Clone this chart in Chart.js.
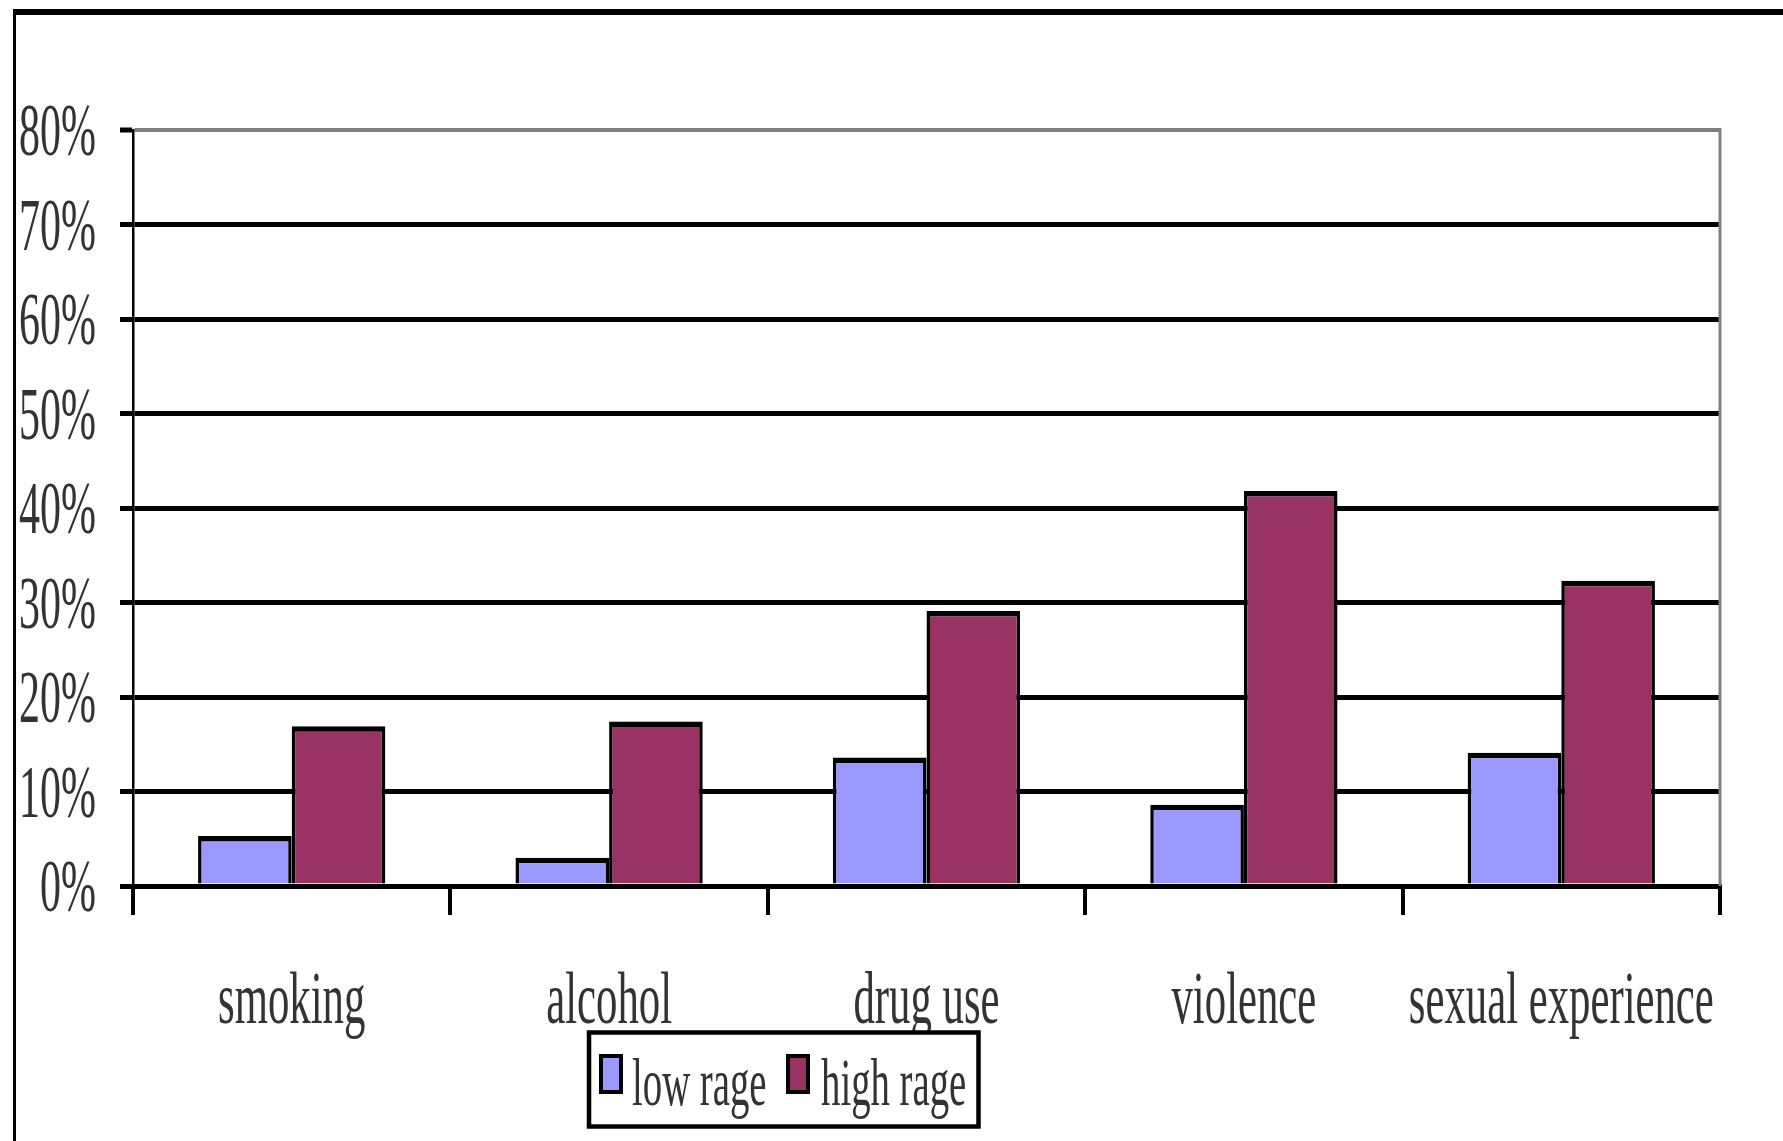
<!DOCTYPE html>
<html>
<head>
<meta charset="utf-8">
<script src="https://cdn.jsdelivr.net/npm/chart.js@4/dist/chart.umd.min.js"></script>
<style>
  html, body { margin: 0; padding: 0; background: #fff; overflow: hidden; }
  #wrap { width: 1783px; height: 1141px; }
</style>
</head>
<body>
<div id="wrap"><canvas id="c" width="1783" height="1141"></canvas></div>
<script>
// Share of respondents by behaviour, split by rage level (percent)
const categories = ['smoking', 'alcohol', 'drug use', 'violence', 'sexual experience'];
const seriesNames = ['low rage', 'high rage'];
const lowRage = [5.3, 3.0, 13.6, 8.6, 14.1];
const highRage = [16.9, 17.4, 29.1, 41.8, 32.3];
const yTicks = [0, 10, 20, 30, 40, 50, 60, 70, 80];
const yTickLabels = ['0%', '10%', '20%', '30%', '40%', '50%', '60%', '70%', '80%'];
const seriesColors = ['#9999FF', '#993366'];

const SERIF = "'Liberation Serif', 'Times New Roman', serif";
const INK = '#333';

// Draw narrow (horizontally squeezed) serif text
function squeezedText(ctx, text, x, y, size, sx, align) {
  ctx.save();
  ctx.font = size + 'px ' + SERIF;
  ctx.fillStyle = INK;
  ctx.textAlign = align;
  ctx.textBaseline = 'alphabetic';
  ctx.translate(x, y);
  ctx.scale(sx, 1);
  ctx.fillText(text, 0, 0);
  ctx.restore();
}

const framePlugin = {
  id: 'frame',
  beforeDraw(chart) {
    const ctx = chart.ctx;
    ctx.save();
    ctx.fillStyle = '#fff';
    ctx.fillRect(0, 0, chart.width, chart.height);
    ctx.fillStyle = '#000';
    // outer border: top and left edges
    ctx.fillRect(13, 9, chart.width - 13, 6);
    ctx.fillRect(13, 9, 3, chart.height - 9);
    ctx.restore();
  },
  afterDraw(chart) {
    const ctx = chart.ctx;
    const area = chart.chartArea;
    const xs = chart.scales.x;
    const ys = chart.scales.y;

    // right edge of the plot area
    ctx.save();
    ctx.strokeStyle = '#808080';
    ctx.lineWidth = 3;
    ctx.beginPath();
    ctx.moveTo(area.right, area.top - 2);
    ctx.lineTo(area.right, area.bottom);
    ctx.stroke();
    ctx.restore();

    // value axis labels
    ys.ticks.forEach((t, i) => {
      const y = ys.getPixelForValue(t.value);
      squeezedText(ctx, yTickLabels[i], 96, y + 25, 75, 0.56, 'right');
    });

    // category labels
    categories.forEach((c, i) => {
      const x = xs.getPixelForValue(i);
      squeezedText(ctx, c, x, 1023, 75, 0.57, 'center');
    });

    // legend box
    ctx.save();
    ctx.strokeStyle = '#000';
    ctx.lineWidth = 4.5;
    ctx.fillStyle = '#fff';
    ctx.fillRect(589, 1032.5, 389.5, 94);
    ctx.strokeRect(589, 1032.5, 389.5, 94);
    const swatchX = [599, 786];
    const textX = [632, 821];
    chart.data.datasets.forEach((ds, i) => {
      ctx.fillStyle = '#000';
      ctx.fillRect(swatchX[i], 1054, 24, 40);
      ctx.fillStyle = ds.backgroundColor;
      ctx.fillRect(swatchX[i] + 4, 1058, 16, 32);
      squeezedText(ctx, ds.label, textX[i], 1105, 68, 0.57, 'left');
    });
    ctx.restore();
  }
};

const barBorder = { top: 5.5, left: 3.5, right: 3.5, bottom: 0 };

new Chart(document.getElementById('c'), {
  type: 'bar',
  data: {
    labels: categories,
    datasets: [
      {
        label: seriesNames[0],
        data: lowRage,
        backgroundColor: seriesColors[0],
        borderColor: '#000',
        borderWidth: barBorder,
        categoryPercentage: 0.59,
        barPercentage: 1.0
      },
      {
        label: seriesNames[1],
        data: highRage,
        backgroundColor: seriesColors[1],
        borderColor: '#000',
        borderWidth: barBorder,
        categoryPercentage: 0.59,
        barPercentage: 1.0
      }
    ]
  },
  options: {
    responsive: false,
    animation: false,
    devicePixelRatio: 1,
    layout: { padding: { top: 130, right: 63, left: 0, bottom: 0 } },
    plugins: {
      legend: { display: false },
      tooltip: { enabled: false }
    },
    scales: {
      x: {
        offset: true,
        afterFit(scale) { scale.height = 255; },
        ticks: { display: false },
        grid: {
          offset: true,
          drawOnChartArea: false,
          drawTicks: true,
          tickLength: 29,
          color: '#000',
          lineWidth: 4,
          tickColor: '#000',
          tickWidth: 4
        },
        border: { display: true, color: '#000', width: 5 }
      },
      y: {
        min: 0,
        max: 80,
        afterFit(scale) { scale.width = 133; },
        afterBuildTicks(scale) { scale.ticks = yTicks.map(v => ({ value: v })); },
        ticks: { display: false, stepSize: 10 },
        grid: {
          drawTicks: true,
          tickLength: 13,
          color: c => (c.tick && c.tick.value === 80 ? '#808080' : '#000'),
          lineWidth: c => (c.tick && c.tick.value === 80 ? 4 : 5),
          tickColor: '#000',
          tickWidth: 5
        },
        border: { display: true, color: '#000', width: 2.5 }
      }
    }
  },
  plugins: [framePlugin]
});
</script>
</body>
</html>
